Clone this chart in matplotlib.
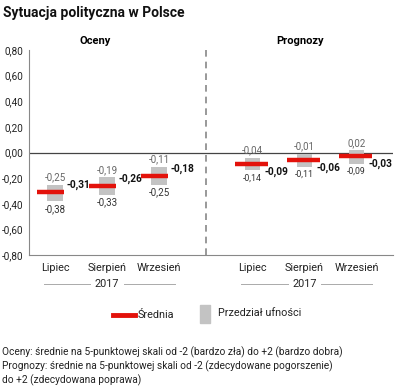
import numpy as np
import matplotlib
matplotlib.use("Agg")
import matplotlib.pyplot as plt
from matplotlib.lines import Line2D
from matplotlib.patches import Rectangle
import matplotlib.transforms as mtransforms

plt.rcParams["font.family"] = ["Roboto", "DejaVu Sans"]

# ── data ────────────────────────────────────────────────────────────────
months      = ["Lipiec", "Sierpień", "Wrzesień"]
year_label  = "2017"
oceny_mean  = [-0.31, -0.26, -0.18]
oceny_low   = [-0.38, -0.33, -0.25]
oceny_high  = [-0.25, -0.19, -0.11]
progn_mean  = [-0.09, -0.06, -0.03]
progn_low   = [-0.14, -0.11, -0.09]
progn_high  = [-0.04, -0.01, 0.02]
y_ticks     = [-0.8, -0.6, -0.4, -0.2, 0.0, 0.2, 0.4, 0.6, 0.8]

RED  = "#e3120b"
GRAY = "#c3c3c3"

def fmt(v):
    return f"{v:.2f}".replace(".", ",")

W, H = 400, 390
fig = plt.figure(figsize=(W / 100, H / 100), dpi=100)
ax = fig.add_axes([29 / W, 1 - 255 / H, (393 - 29) / W, (255 - 50) / H])

x_left  = np.array([0.0, 1.0, 2.0])
x_right = np.array([3.8, 4.8, 5.8])
box_w = 0.29

# (xs, mean, low, high, red width, red shift, label x offset, label dy, low font)
groups = [
    (x_left,  oceny_mean, oceny_low, oceny_high, 0.52, -0.09, 0.22, 5, 7.0),
    (x_right, progn_mean, progn_low, progn_high, 0.62, -0.02, 0.22, -5.5, 6.3),
]
for xs, mean, low, high, lw_, shift, lab_dx, dy, low_fs in groups:
    mean, low, high = map(np.asarray, (mean, low, high))
    ax.bar(xs, high - low, bottom=low, width=box_w, color=GRAY, zorder=2)
    lx = xs + shift
    ax.hlines(mean, lx - lw_ / 2, lx + lw_ / 2, color=RED, lw=3.2, zorder=3)
    for x, m, lo, hi in zip(xs, mean, low, high):
        ax.annotate(fmt(hi), (x, hi), xytext=(0, 1.5), textcoords="offset points",
                    ha="center", va="bottom", fontsize=7, color="#666666")
        ax.annotate(fmt(lo), (x, lo), xytext=(0, -2), textcoords="offset points",
                    ha="center", va="top", fontsize=low_fs, color="#333333")
        ax.annotate(fmt(m), (x + lab_dx, m), xytext=(0, dy), textcoords="offset points",
                    ha="left", va="center", fontsize=7.3, fontweight="bold", color="#111111",
                    zorder=4)

ax.axhline(0, color="#444444", lw=0.9, zorder=1)
ax.axvline(2.9, color="#888888", lw=1.2, ls=(0, (4, 3)), zorder=1)

ax.set_xlim(-0.5, 6.5)
ax.set_ylim(-0.8, 0.8)
ax.set_yticks(y_ticks)
ax.set_yticklabels([fmt(v) for v in y_ticks], fontsize=7.2, color="#222222")
ax.set_xticks(np.concatenate([x_left, x_right]))
ax.set_xticklabels(months * 2, fontsize=7.8, color="#222222")
ax.tick_params(axis="both", length=0)
ax.tick_params(axis="x", pad=6)
ax.tick_params(axis="y", pad=4)
for s in ["top", "right"]:
    ax.spines[s].set_visible(False)
ax.spines["left"].set_color("#888888")
ax.spines["bottom"].set_color("#888888")

# year labels under each group
tr = mtransforms.blended_transform_factory(ax.transData, ax.transAxes)
y_year = -(284 - 255) / (255 - 50)
for xs in (x_left, x_right):
    c = xs[1]
    ax.text(c, y_year, year_label, transform=tr, ha="center", va="center",
            fontsize=7.8, color="#222222", clip_on=False)
    for a, b in [(xs[0] - 0.22, c - 0.32), (c + 0.32, xs[2] + 0.3)]:
        ax.plot([a, b], [y_year, y_year], transform=tr, color="#aaaaaa",
                lw=0.7, clip_on=False)

# panel titles
fig.text(95 / W, 1 - 41 / H, "Oceny", ha="center", va="center",
         fontsize=8, fontweight="bold")
fig.text(300 / W, 1 - 41 / H, "Prognozy", ha="center", va="center",
         fontsize=8, fontweight="bold")

fig.text(3 / W, 1 - 13 / H, "Sytuacja polityczna w Polsce", ha="left", va="center",
         fontsize=10, fontweight="bold", color="#111111")

# legend
ly = 1 - 315 / H
fig.add_artist(Line2D([113 / W, 135 / W], [ly, ly], color=RED, lw=3.5))
fig.text(138 / W, ly, "Średnia", ha="left", va="center", fontsize=7.8, color="#222222")
fig.add_artist(Rectangle((200 / W, 1 - 323 / H), 10 / W, 18 / H, color=GRAY,
                         transform=fig.transFigure))
fig.text(218 / W, 1 - 313 / H, "Przedział ufności", ha="left", va="center",
         fontsize=7.8, color="#222222")

notes = [
    "Oceny: średnie na 5-punktowej skali od -2 (bardzo zła) do +2 (bardzo dobra)",
    "Prognozy: średnie na 5-punktowej skali od -2 (zdecydowane pogorszenie)",
    "do +2 (zdecydowana poprawa)",
]
for i, line in enumerate(notes):
    fig.text(2 / W, 1 - (352 + 14 * i) / H, line, ha="left", va="center",
             fontsize=7.3, color="#222222")

fig.savefig("out.png", dpi=100)
